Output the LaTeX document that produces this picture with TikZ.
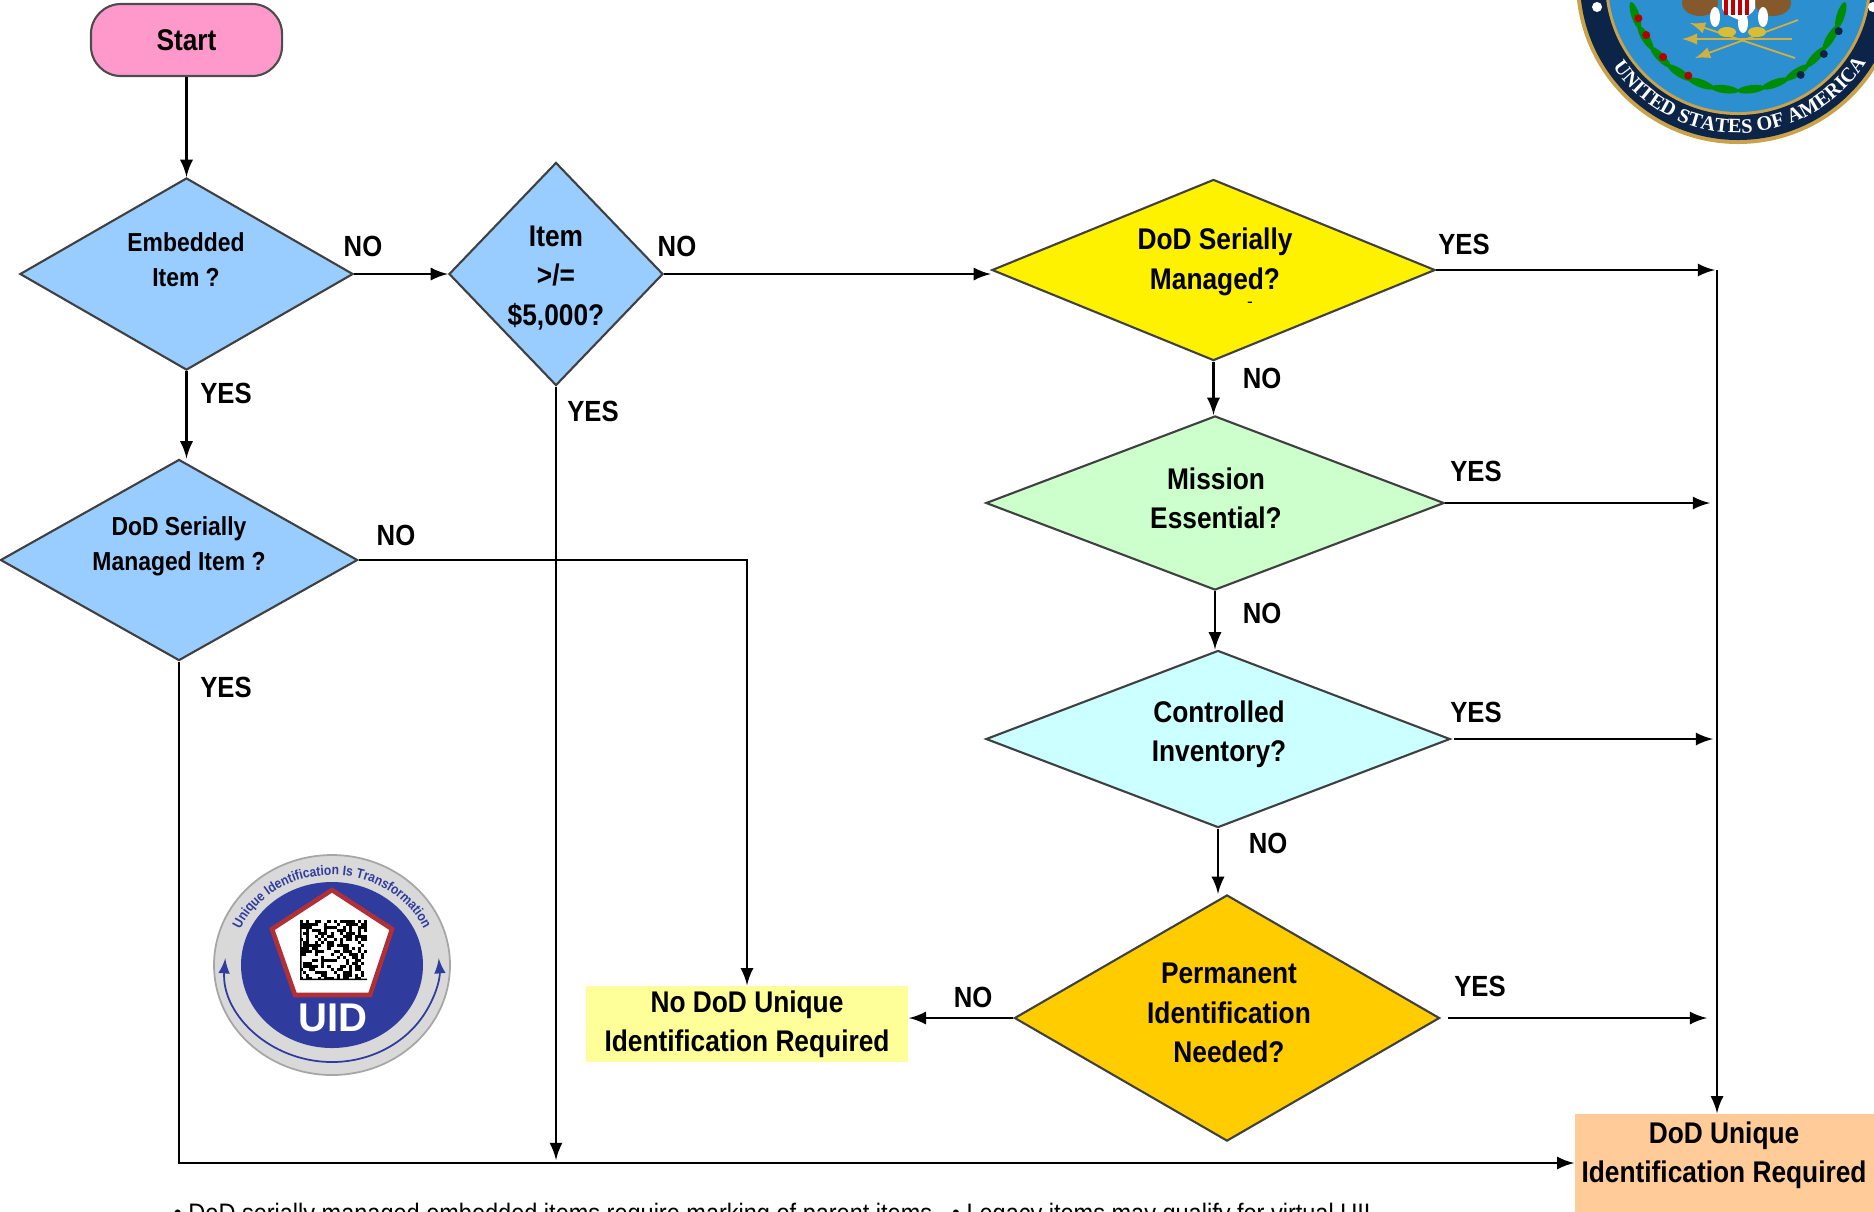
\documentclass[tikz,border=0pt]{standalone}
\usepackage{fontspec}
\usetikzlibrary{shapes.geometric,decorations.text}
\setmainfont{Liberation Sans}
\newfontfamily\flowfont[FakeStretch=0.88]{Liberation Sans}
\newfontfamily\sealfont{Liberation Serif}

\definecolor{startpink}{HTML}{FF99CC}
\definecolor{itemblue}{HTML}{99CCFF}
\definecolor{missiongreen}{HTML}{CCFFCC}
\definecolor{inventorycyan}{HTML}{CCFFFF}
\definecolor{permorange}{HTML}{FFCC00}
\definecolor{paleyellow}{HTML}{FFFF99}
\definecolor{peach}{HTML}{FFCC99}
\definecolor{sealnavy}{HTML}{0B2447}
\definecolor{sealblue}{HTML}{2C8FD0}
\definecolor{sealgold}{HTML}{C9A24A}
\definecolor{uidblue}{HTML}{2F3C9E}
\definecolor{uidred}{HTML}{B03036}

\tikzset{
	edge/.style={line width=0.7pt,black},
	decision/.style={diamond,draw=black!75,line width=0.6pt,inner sep=0pt,aspect=1},
	startbox/.style={draw=black!70,line width=0.6pt,rounded corners=0.3cm,fill=startpink,minimum width=1.91cm,minimum height=0.72cm,inner sep=0pt,font=\flowfont\bfseries\fontsize{8.5}{11.2}\selectfont},
	outcome/.style={inner sep=0pt,font=\flowfont\bfseries\fontsize{8.5}{11.2}\selectfont,align=center},
	bigtext/.style={inner sep=0pt,font=\flowfont\bfseries\fontsize{8.5}{11.2}\selectfont,align=center},
	smalltext/.style={inner sep=0pt,font=\flowfont\bfseries\fontsize{7.4}{9.9}\selectfont,align=center},
	answer/.style={inner sep=0pt,font=\flowfont\bfseries\fontsize{8.3}{10}\selectfont},
}

\begin{document}
\begin{tikzpicture}[>=latex,x=0.01cm,y=-0.01cm]
	\useasboundingbox (0,0) rectangle (1874,1211);
	\clip (0,0) rectangle (1874,1211);

	\node[startbox] (start) at (186.5,40) {Start};
	\node[decision,fill=itemblue,minimum width=3.33cm,minimum height=1.92cm] (embedded) at (186.5,274) {};
	\node[decision,fill=itemblue,minimum width=2.14cm,minimum height=2.23cm] (item) at (556,274) {};
	\node[decision,fill=yellow,minimum width=4.43cm,minimum height=1.81cm] (managed) at (1213.5,270) {};
	\node[decision,fill=itemblue,minimum width=3.57cm,minimum height=2.01cm] (manageditem) at (179,560) {};
	\node[decision,fill=missiongreen,minimum width=4.58cm,minimum height=1.74cm] (mission) at (1215,503) {};
	\node[decision,fill=inventorycyan,minimum width=4.64cm,minimum height=1.77cm] (inventory) at (1218,739) {};
	\node[decision,fill=permorange,minimum width=4.25cm,minimum height=2.46cm] (permanent) at (1227,1018) {};
	\node[outcome,fill=paleyellow,minimum width=3.22cm,minimum height=0.76cm] (nounique) at (747,1024) {No DoD Unique\\Identification Required};
	\node[fill=peach,minimum width=2.99cm,minimum height=0.98cm,inner sep=0pt] (unique) at (1724.5,1163) {};

	\node[smalltext] (embeddedtext) at (186,260) {Embedded\\Item ?};
	\node[bigtext] (itemtext) at (556,278) {Item\\>/=\\\$5,000?};
	\node[bigtext] (managedtext) at (1215,262) {DoD Serially\\Managed?};
	\node[inner sep=0pt,font=\fontsize{5}{6}\selectfont] (manageddash) at (1250,305) {-};
	\node[smalltext] (manageditemtext) at (179,546) {DoD Serially\\Managed Item ?};
	\node[bigtext] (missiontext) at (1216,498) {Mission\\Essential?};
	\node[bigtext] (inventorytext) at (1219,734) {Controlled\\Inventory?};
	\node[bigtext] (permanenttext) at (1229,1013) {Permanent\\Identification\\Needed?};
	\node[bigtext] (uniquetext) at (1724,1155) {DoD Unique\\Identification Required};

	\node[answer] (embeddedno) at (363,246) {NO};
	\node[answer] (itemno) at (677,246) {NO};
	\node[answer] (managedyes) at (1464,244) {YES};
	\node[answer] (managedno) at (1262,378) {NO};
	\node[answer] (embeddedyes) at (226,393) {YES};
	\node[answer] (itemyes) at (593,411) {YES};
	\node[answer] (manageditemno) at (396,535) {NO};
	\node[answer] (missionyes) at (1476,471) {YES};
	\node[answer] (missionno) at (1262,613) {NO};
	\node[answer] (manageditemyes) at (226,687) {YES};
	\node[answer] (inventoryyes) at (1476,712) {YES};
	\node[answer] (inventoryno) at (1268,843) {NO};
	\node[answer] (permanentno) at (973,997) {NO};
	\node[answer] (permanentyes) at (1480,986) {YES};

	\coordinate (bustop) at (1717,270);
	\coordinate (itemend) at (556,1160);

	\draw[edge,->] (start.south) -- (start.south |- embedded.north);
	\draw[edge,->] (embedded.east) -- (embedded.east -| item.west);
	\draw[edge,->] (item.east) -- (item.east -| managed.west);
	\draw[edge,->] (embedded.south) -- (embedded.south |- manageditem.north);
	\draw[edge,->] (managed.south) -- (managed.south |- mission.north);
	\draw[edge,->] (mission.south) -- (mission.south |- inventory.north);
	\draw[edge,->] (inventory.south) -- (inventory.south |- permanent.north);
	\draw[edge,->] (manageditem.east) -| (nounique.north);
	\draw[edge,->] (manageditem.south) |- (unique.west);
	\draw[edge,->] (item.south) -- (itemend);
	\draw[edge,->] (permanent.west) -- (nounique.east |- permanent.west);
	\draw[edge,->] (managed.east) -- (1715,270);
	\draw[edge,->] (mission.east) -- (1710,503);
	\draw[edge,->] ([xshift=0.03cm]inventory.east) -- (1713,739);
	\draw[edge,->] ([xshift=0.07cm]permanent.east) -- (1707,1018);
	\draw[edge,->] (bustop) -- (bustop |- unique.north);

	\node[inner sep=0pt,anchor=base west,font=\flowfont\fontsize{7.6}{9}\selectfont] (footnote) at (173,1222) {\textbullet\ DoD serially managed embedded items require marking of parent items.\ \ \textbullet\ Legacy items may qualify for virtual UII};

	% seal
	\fill[sealgold] (1738,-18) circle[radius=162];
	\fill[sealnavy] (1738,-18) circle[radius=158];
	\fill[sealgold] (1738,-18) circle[radius=133];
	\fill[sealblue] (1738,-18) circle[radius=130];
	\foreach \a in {18,31,44,57,70,83,97,110,123,136,149,162}
		\fill[green!55!black,rotate around={90-\a:(1738,-18)}] (1738,90) ellipse[x radius=14,y radius=4];
	\foreach \a in {26,40,56}
		\fill[sealnavy] (1738,-18) ++(\a:112) circle[radius=4];
	\foreach \a in {118,135,150,160}
		\fill[red!70!black] (1738,-18) ++(\a:106) circle[radius=4];
	\foreach \px/\py in {1700/3,1773/3}
		\fill[brown!70!black] (\px,\py) ellipse[x radius=18,y radius=13];
	\foreach \px/\py in {1715/17,1743/23,1763/17}
		\fill[white] (\px,\py) ellipse[x radius=5,y radius=10];
	\fill[white] (1722,-2) -- (1755,-2) -- (1755,8) .. controls (1752,15) and (1745,17) .. (1739,20) .. controls (1732,17) and (1725,15) .. (1722,8) -- cycle;
	\foreach \px in {1726,1733,1740,1747}
		\draw[red!75!black,line width=1pt] (\px,-2) -- (\px,15);
	\foreach \ax/\ay/\bx/\by in {1682/39/1792/39,1690/23/1795/58,1695/58/1798/20}
		\draw[sealgold!85!yellow,line width=0.5pt,->] (\bx,\by) -- (\ax,\ay);
	\foreach \px in {1727,1757}
		\fill[sealgold!70!yellow] (\px,32) ellipse[x radius=9,y radius=5];
	\foreach \px in {1597,1873}
		\fill[white] (\px,7) circle[radius=5];
	\begin{scope}[shift={(1738,-18)},x=0.01cm,y=0.01cm]
		\path[decorate,decoration={text along path,text align=center,text={|\sealfont\bfseries\fontsize{5.8}{6}\selectfont\color{white}|UNITED STATES OF AMERICA}}] (212:151) arc[start angle=212,end angle=330,radius=151];
	\end{scope}

	% uid badge
	\fill[black!15,draw=black!35,line width=0.5pt] (332,965) ellipse[x radius=118,y radius=110];
	\fill[uidblue] (332,965) ellipse[x radius=91,y radius=83];
	\filldraw[fill=white,draw=uidred,line width=1.3pt] (332,890) -- (392,929) -- (370,995) -- (295,995) -- (272,929) -- cycle;
	\pgfmathsetseed{11}
	\fill[black] (300,920) rectangle (301.5,980) (300,978.5) rectangle (367,980);
	\foreach \i in {0,...,21}
		\foreach \j in {0,...,19} {
			\pgfmathrandominteger{\cell}{0}{1}
			\ifnum\cell=1
				\fill[black] ({300+\i*3.05},{920+\j*3}) rectangle ++(3.05,3);
			\fi
		}
	\node[inner sep=0pt,text=white,font=\bfseries\fontsize{11.4}{12}\selectfont] (uidtext) at (333,1018) {UID};
	\begin{scope}[shift={(332,965)},x=0.01cm,y=0.01cm]
		\draw[uidblue,line width=0.5pt,<->] ({107*cos(176)},{97*sin(176)}) arc[start angle=176,end angle=364,x radius=107,y radius=97];
		\path[decorate,decoration={text along path,text align=center,text={|\flowfont\bfseries\fontsize{3.9}{5}\selectfont\color{uidblue}|Unique Identification Is Transformation}}] ({100*cos(172)},{90*sin(172)}) arc[start angle=172,end angle=8,x radius=100,y radius=90];
	\end{scope}
\end{tikzpicture}
\end{document}
